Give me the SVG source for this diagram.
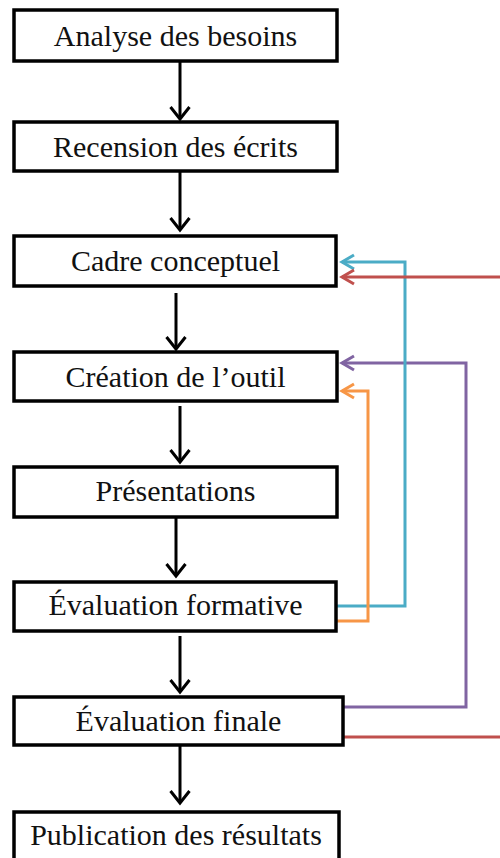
<svg xmlns="http://www.w3.org/2000/svg" width="500" height="858" viewBox="0 0 500 858">
<style>
.box{fill:#fff;stroke:#000;stroke-width:3.5}
.lbl{font-family:"Liberation Serif","Times New Roman",serif;font-size:30px;fill:#111;text-anchor:middle}
.flow{fill:none;stroke:#000;stroke-width:3}
.fb{fill:none;stroke-width:3;stroke-linejoin:miter}
</style>
<defs>
<marker id="ah" markerUnits="userSpaceOnUse" markerWidth="24" markerHeight="24" refX="12" refY="12" orient="auto" overflow="visible">
<path d="M0,2.5 L12,12 L0,21.5" fill="none" stroke="#000" stroke-width="3"/>
</marker>
<marker id="ahc" markerUnits="userSpaceOnUse" markerWidth="20" markerHeight="20" refX="12" refY="10" orient="auto" overflow="visible">
<path d="M0,3 L12,10 L0,17" fill="none" stroke="#4BACC6" stroke-width="3"/>
</marker>
<marker id="ahr" markerUnits="userSpaceOnUse" markerWidth="20" markerHeight="20" refX="12" refY="10" orient="auto" overflow="visible">
<path d="M0,3 L12,10 L0,17" fill="none" stroke="#C0504D" stroke-width="3"/>
</marker>
<marker id="ahp" markerUnits="userSpaceOnUse" markerWidth="20" markerHeight="20" refX="12" refY="10" orient="auto" overflow="visible">
<path d="M0,3 L12,10 L0,17" fill="none" stroke="#8064A2" stroke-width="3"/>
</marker>
<marker id="aho" markerUnits="userSpaceOnUse" markerWidth="20" markerHeight="20" refX="12" refY="10" orient="auto" overflow="visible">
<path d="M0,3 L12,10 L0,17" fill="none" stroke="#F79646" stroke-width="3"/>
</marker>
</defs>
<g id="connectors">
<line class="flow" x1="180" y1="61" x2="180" y2="119" marker-end="url(#ah)"/>
<line class="flow" x1="180" y1="171" x2="180" y2="230" marker-end="url(#ah)"/>
<line class="flow" x1="176" y1="293" x2="176" y2="349" marker-end="url(#ah)"/>
<line class="flow" x1="180" y1="406" x2="180" y2="462" marker-end="url(#ah)"/>
<line class="flow" x1="176" y1="517" x2="176" y2="576" marker-end="url(#ah)"/>
<line class="flow" x1="180" y1="636" x2="180" y2="692" marker-end="url(#ah)"/>
<line class="flow" x1="180" y1="745" x2="180" y2="803" marker-end="url(#ah)"/>
<path class="fb" stroke="#8064A2" d="M343,707 H466 V363 H342" marker-end="url(#ahp)"/>
<path class="fb" stroke="#4BACC6" d="M337,606 H405 V262 H342" marker-end="url(#ahc)"/>
<path class="fb" stroke="#C0504D" d="M343,737 H530 V277 H342" marker-end="url(#ahr)"/>
<path class="fb" stroke="#F79646" d="M337,621 H368 V391 H342" marker-end="url(#aho)"/>
</g>
<g id="n1"><rect class="box" x="14" y="10" width="323" height="51"/><text class="lbl" x="175.5" y="46">Analyse des besoins</text></g>
<g id="n2"><rect class="box" x="14" y="122" width="323" height="49"/><text class="lbl" x="175.5" y="157">Recension des écrits</text></g>
<g id="n3"><rect class="box" x="14" y="236" width="322" height="50"/><text class="lbl" x="175.5" y="271">Cadre conceptuel</text></g>
<g id="n4"><rect class="box" x="14" y="352" width="323" height="49"/><text class="lbl" x="175.5" y="387">Création de l’outil</text></g>
<g id="n5"><rect class="box" x="14" y="467" width="323" height="50"/><text class="lbl" x="175.5" y="501">Présentations</text></g>
<g id="n6"><rect class="box" x="14" y="582" width="322" height="49"/><text class="lbl" x="175.5" y="615">Évaluation formative</text></g>
<g id="n7"><rect class="box" x="14" y="697" width="329" height="48"/><text class="lbl" x="178.5" y="731">Évaluation finale</text></g>
<g id="n8"><rect class="box" x="14" y="812" width="325" height="60"/><text class="lbl" x="176" y="845">Publication des résultats</text></g>
</svg>
